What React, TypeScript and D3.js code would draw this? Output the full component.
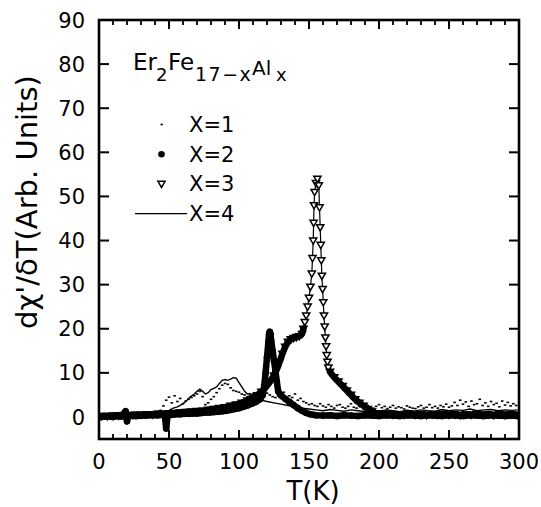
import React from 'react';
import * as d3 from 'd3';

type P = [number, number];

const xMajorTicks = [0, 50, 100, 150, 200, 250, 300];
const yMajorTicks = [0, 10, 20, 30, 40, 50, 60, 70, 80, 90];

const legendLabels = ['X=1', 'X=2', 'X=3', 'X=4'];

// X=1 : small dots
const seriesX1: P[] = [
  [44, 1.5], [46, 2.5], [48, 3.8], [50, 4.5], [52, 3.2], [54, 4.8], [56, 3.5], [58, 4.2], [60, 3.0], [62, 3.6],
  [64, 4.0], [66, 4.4], [68, 4.8], [70, 5.2], [72, 5.8], [74, 4.6], [76, 2.8], [78, 3.2], [80, 4.0], [82, 4.6],
  [84, 5.5], [86, 6.4], [88, 7.2], [90, 7.6], [92, 7.4], [94, 6.6], [96, 6.0], [98, 5.8], [100, 5.6], [102, 5.2],
  [104, 5.0], [106, 4.6], [108, 4.8], [110, 5.2], [112, 5.5], [114, 5.0], [116, 4.8], [118, 5.2], [120, 5.4],
  [122, 5.0], [124, 4.6], [126, 4.4], [128, 4.8], [130, 4.2], [132, 5.6], [134, 4.0], [136, 4.8], [138, 4.4],
  [140, 5.2], [142, 3.8], [144, 4.2], [146, 3.5], [148, 3.2], [150, 2.8], [152, 3.0], [154, 2.6], [156, 2.4],
  [158, 3.0], [160, 2.5], [162, 2.2], [164, 2.8], [166, 2.4], [168, 2.0], [170, 2.6], [172, 2.8], [174, 2.2],
  [176, 2.0], [178, 2.4], [180, 3.0], [182, 2.2], [184, 2.0], [186, 2.5], [188, 2.3], [190, 2.0], [192, 2.6],
  [194, 2.2], [196, 2.0], [198, 2.4], [200, 2.8], [202, 2.1], [204, 2.4], [206, 1.9], [208, 2.2], [210, 2.6],
  [212, 2.0], [214, 2.3], [216, 2.1], [218, 1.8], [220, 2.5], [222, 2.2], [224, 2.0], [226, 1.9], [228, 2.3],
  [230, 2.6], [232, 2.0], [234, 2.2], [236, 2.8], [238, 2.1], [240, 2.4], [242, 2.0], [244, 2.6], [246, 2.3],
  [248, 2.9], [250, 2.2], [252, 2.5], [254, 3.3], [256, 2.6], [258, 3.8], [260, 2.9], [262, 3.4], [264, 2.4],
  [266, 3.6], [268, 2.8], [270, 3.0], [272, 4.0], [274, 2.6], [276, 3.2], [278, 2.4], [280, 3.5], [282, 2.8],
  [284, 3.1], [286, 2.3], [288, 3.6], [290, 2.7], [292, 3.3], [294, 2.5], [296, 3.0], [298, 2.6],
];

// X=2 : filled circles
const seriesX2: P[] = [
  [1, 0.0], [4, 0.1], [7, 0.1], [10, 0.0], [13, 0.2], [16, 0.1], [19, 1.3], [20, -1.0], [21, 0.4], [24, 0.2],
  [27, 0.2], [30, 0.3], [33, 0.3], [36, 0.4], [39, 0.4], [42, 0.4], [45, 0.5], [47, 0.4], [48, -2.6], [49, 0.3],
  [52, 0.5], [55, 0.6], [58, 0.6], [61, 0.7], [64, 0.7], [67, 0.8], [70, 0.8], [73, 0.9], [76, 1.0], [79, 1.0],
  [82, 1.1], [85, 1.2], [88, 1.3], [91, 1.4], [94, 1.6], [97, 1.8], [100, 2.0], [103, 2.3], [106, 2.6], [109, 3.0],
  [112, 3.4], [115, 4.0], [117, 5.0], [118, 7.0], [119, 10.0], [120, 13.5], [121, 17.0], [121.5, 18.8],
  [122, 19.3], [122.5, 18.8], [123, 17.2], [124, 15.0], [125, 12.8], [126, 10.5], [127, 8.0], [128, 5.8],
  [130, 4.9], [133, 4.1], [136, 3.4], [139, 2.7], [142, 2.0], [145, 1.4], [148, 0.9], [151, 0.6], [155, 0.4],
  [160, 0.3], [165, 0.4], [170, 0.2], [175, 0.4], [180, 0.3], [185, 0.2], [190, 0.4], [195, 0.3], [200, 0.2],
  [205, 0.4], [210, 0.3], [215, 0.2], [220, 0.4], [225, 0.3], [230, 0.2], [235, 0.4], [240, 0.3], [245, 0.2],
  [250, 0.4], [255, 0.3], [260, 0.2], [265, 0.4], [270, 0.3], [275, 0.2], [280, 0.4], [285, 0.3], [290, 0.2],
  [295, 0.3], [299, 0.2],
];

// X=3 : open down triangles
const seriesX3: P[] = [
  [2, 0.2], [6, 0.2], [10, 0.3], [14, 0.3], [18, 0.4], [22, 0.4], [26, 0.5], [30, 0.5], [34, 0.6], [38, 0.6],
  [42, 0.7], [46, 0.7], [50, 0.8], [54, 0.9], [58, 1.0], [62, 1.1], [66, 1.2], [70, 1.3], [74, 1.4], [78, 1.6],
  [82, 1.8], [86, 2.0], [90, 2.2], [94, 2.5], [98, 2.8], [102, 3.2], [106, 3.7], [110, 4.3], [113, 4.9],
  [116, 5.7], [119, 6.7], [122, 7.9], [125, 9.4], [127, 10.8], [129, 12.5], [131, 14.3], [133, 15.9],
  [135, 17.0], [137, 17.6], [139, 17.9], [141, 18.1], [143, 18.3], [145, 18.8], [146, 20.0], [147, 21.5],
  [148, 23.0], [149, 25.0], [150, 27.0], [151, 29.5], [152, 32.5], [152.5, 36.0], [153, 40.0], [153.3, 44.0],
  [153.6, 48.0], [154, 51.0], [155, 53.0], [156, 54.0], [157, 52.5], [157.5, 47.5], [158, 43.0], [158.4, 39.0],
  [158.8, 35.5], [159.2, 32.0], [159.7, 29.0], [160.2, 26.0], [160.7, 23.0], [161.2, 20.5], [161.7, 18.0],
  [162.2, 16.0], [162.7, 14.0], [163.2, 12.5], [163.8, 11.2], [165, 10.2], [168, 9.0], [171, 8.0], [174, 7.0],
  [177, 6.0], [180, 5.0], [183, 4.0], [186, 3.2], [189, 2.5], [192, 1.8], [195, 1.2], [198, 0.8], [202, 0.6],
  [206, 0.7], [210, 0.5], [214, 0.6], [218, 0.5], [222, 0.7], [226, 0.5], [230, 0.6], [234, 0.4], [238, 0.6],
  [242, 0.5], [246, 0.7], [250, 0.5], [254, 0.6], [258, 0.4], [262, 0.6], [266, 0.5], [270, 0.7], [274, 0.5],
  [278, 0.6], [282, 0.4], [286, 0.6], [290, 0.5], [294, 0.6], [298, 0.5],
];

// X=4 : solid line
const seriesX4: P[] = [
  [2, 0.3], [10, 0.4], [20, 0.5], [30, 0.6], [40, 0.8], [45, 1.0], [50, 1.5], [53, 2.0], [56, 2.3], [59, 2.8],
  [62, 3.5], [65, 4.5], [68, 5.2], [70, 5.8], [72, 6.3], [74, 5.8], [76, 5.2], [78, 5.5], [80, 6.2], [82, 6.5],
  [84, 6.8], [86, 7.6], [88, 8.3], [90, 8.5], [92, 8.3], [94, 8.6], [96, 8.9], [98, 8.8], [100, 7.8], [102, 6.8],
  [104, 5.8], [106, 5.2], [108, 5.3], [110, 4.6], [113, 4.2], [116, 3.8], [120, 3.5], [125, 3.2], [130, 2.9],
  [135, 2.6], [140, 2.3], [145, 2.0], [150, 1.8], [155, 1.6], [160, 1.4], [165, 1.7], [170, 1.5], [175, 1.3],
  [180, 1.6], [185, 1.4], [190, 1.2], [195, 1.5], [200, 1.3], [205, 1.6], [210, 1.4], [215, 1.2], [220, 1.5],
  [225, 1.3], [230, 1.6], [235, 1.4], [240, 1.3], [245, 1.7], [250, 1.4], [255, 1.6], [260, 1.5], [265, 1.8],
  [270, 1.4], [275, 1.6], [280, 1.7], [285, 1.4], [290, 1.6], [295, 1.5], [299, 1.6],
];

const FONT = '"DejaVu Sans", "Liberation Sans", sans-serif';
const TRI = 'M-3.6,-2.6 L3.6,-2.6 L0,3.6 Z';

export default function App() {
  const W = 541;
  const H = 507;
  const left = 99, right = 519, top = 20, bottom = 439;
  const x = d3.scaleLinear().domain([0, 300]).range([left, right]);
  const y = d3.scaleLinear().domain([-5, 90]).range([bottom, top]);
  const line = d3.line<P>().x(d => x(d[0])).y(d => y(d[1]));

  const xMinor = x.ticks(30).filter(t => !xMajorTicks.includes(t));

  const isDense = (d: P) => d[0] <= 146 || d[0] >= 164;
  const x3ThickA = seriesX3.filter(d => d[0] <= 146);
  const x3ThickB = seriesX3.filter(d => d[0] >= 164);

  const legendTop = 132;
  const legendStep = 29.7;

  return (
    <svg width={W} height={H} style={{ position: 'absolute', left: 0, top: 0, background: '#fff' }}
      fontFamily={FONT}>
      <defs>
        <clipPath id="plotclip">
          <rect x={left} y={top} width={right - left} height={bottom - top} />
        </clipPath>
      </defs>
      <rect x={0} y={0} width={W} height={H} fill="#fff" />

      <g clipPath="url(#plotclip)">
        {/* X=4 line */}
        <path d={line(seriesX4) || ''} fill="none" stroke="#000" strokeWidth={1.4} />
        {/* X=1 dots */}
        {seriesX1.map((d, i) => (
          <rect key={'a' + i} x={x(d[0]) - 1.3} y={y(d[1]) - 0.8} width={2.6} height={1.6} fill="#000" />
        ))}
        {/* X=2 */}
        <path d={line(seriesX2) || ''} fill="none" stroke="#000" strokeWidth={6.5} strokeLinejoin="round" strokeLinecap="round" />
        {seriesX2.map((d, i) => (
          <circle key={'b' + i} cx={x(d[0])} cy={y(d[1])} r={3.3} fill="#000" />
        ))}
        {/* X=3 */}
        <path d={line(x3ThickA) || ''} fill="none" stroke="#000" strokeWidth={6.5} strokeLinejoin="round" strokeLinecap="round" />
        <path d={line(x3ThickB) || ''} fill="none" stroke="#000" strokeWidth={6.5} strokeLinejoin="round" strokeLinecap="round" />
        <path d={line(seriesX3) || ''} fill="none" stroke="#000" strokeWidth={1.2} />
        {seriesX3.map((d, i) => (
          <path key={'c' + i} d={TRI} transform={`translate(${x(d[0])},${y(d[1])})`}
            fill={isDense(d) ? '#000' : '#fff'} stroke="#000" strokeWidth={1.5} />
        ))}
      </g>

      {/* frame */}
      <rect x={left} y={top} width={right - left} height={bottom - top} fill="none" stroke="#000" strokeWidth={2.6} />

      {/* x ticks */}
      {xMajorTicks.map(t => (
        <g key={'xt' + t}>
          <line x1={x(t)} x2={x(t)} y1={bottom} y2={bottom - 9} stroke="#000" strokeWidth={2} />
          <line x1={x(t)} x2={x(t)} y1={top} y2={top + 9} stroke="#000" strokeWidth={2} />
          <text x={x(t)} y={469} textAnchor="middle" fontSize={21}>{t}</text>
        </g>
      ))}
      {xMinor.map(t => (
        <g key={'xm' + t}>
          <line x1={x(t)} x2={x(t)} y1={bottom} y2={bottom - 5} stroke="#000" strokeWidth={1.8} />
          <line x1={x(t)} x2={x(t)} y1={top} y2={top + 5} stroke="#000" strokeWidth={1.8} />
        </g>
      ))}
      {/* y ticks */}
      {yMajorTicks.map(t => (
        <g key={'yt' + t}>
          <line x1={left} x2={left + 10} y1={y(t)} y2={y(t)} stroke="#000" strokeWidth={2} />
          <line x1={right} x2={right - 10} y1={y(t)} y2={y(t)} stroke="#000" strokeWidth={2} />
          <text x={85} y={y(t)} dy="0.36em" textAnchor="end" fontSize={21}>{t}</text>
        </g>
      ))}

      {/* axis labels */}
      <text x={313} y={500} textAnchor="middle" fontSize={26}>T(K)</text>
      <text transform="translate(37,202) rotate(-90)" textAnchor="middle" fontSize={29}>dχ'/δT(Arb. Units)</text>

      {/* legend title */}
      <text fontSize={23}>
        <tspan x={133} y={70}>Er</tspan>
        <tspan x={156} y={81} fontSize={18}>2</tspan>
        <tspan x={168} y={70}>Fe</tspan>
        <tspan x={195} y={81} fontSize={19} letterSpacing={1.5}>17−x</tspan>
        <tspan x={252} y={75} fontSize={20}>Al</tspan>
        <tspan x={276} y={81} fontSize={18}>x</tspan>
      </text>

      {/* legend entries */}
      {legendLabels.map((lab, i) => {
        const by = legendTop + i * legendStep;
        const cy = by - 7.5;
        return (
          <g key={'lg' + i}>
            {i === 0 && <rect x={160.5} y={cy - 0.8} width={2.4} height={1.6} fill="#000" />}
            {i === 1 && <circle cx={161.5} cy={cy} r={3.3} fill="#000" />}
            {i === 2 && <path d={TRI} transform={`translate(161.5,${cy})`} fill="#fff" stroke="#000" strokeWidth={1.5} />}
            {i === 3 && <line x1={135} x2={187} y1={cy} y2={cy} stroke="#000" strokeWidth={1.4} />}
            <text x={189} y={by} fontSize={21}>{lab}</text>
          </g>
        );
      })}
    </svg>
  );
}
